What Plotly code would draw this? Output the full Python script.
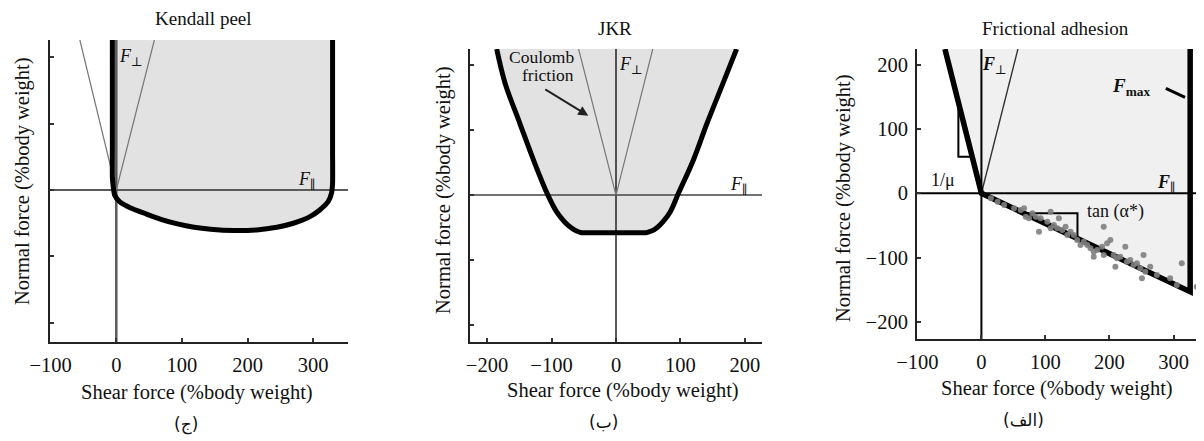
import plotly.graph_objects as go

# The page places the figure 8 px in from the top-left corner (default body margin),
# so the figure is sized/positioned to compensate.
PAGE_W, PAGE_H = 1204, 441
OFF = 8
W, H = PAGE_W - OFF, PAGE_H - OFF
FONT = "Liberation Serif, Times New Roman, DejaVu Serif, serif"
AR_FONT = "DejaVu Sans, Noto Sans, sans-serif"
TXT = "#111111"

# ---------------- data ----------------
# axis ranges (data units)
k_xrange = [-101, 353]
k_yrange = [-228.6, 225.6]
j_xrange = [-226.4, 226.4]
j_yrange = [-226.0, 224.6]
f_xrange = [-100.6, 347.6]
f_yrange = [-226.6, 224.4]

k_xticks = [-100, 0, 100, 200, 300]
j_xticks = [-200, -100, 0, 100, 200]
f_xticks = [-100, 0, 100, 200, 300]
y_ticks = [-200, -100, 0, 100, 200]

# Kendall peel limit curve
kendall_x = [-6, -6, -6, -5, -2.5, 5, 22.7, 42.9, 68, 93.3, 118.5, 143.7, 179, 214,
             244.6, 269.7, 295, 310, 322.7, 327.8, 329.5, 329.5, 329.5]
kendall_y = [225.6, 60, 20, 8, -7.5, -17.6, -27.5, -35, -44, -51, -56, -59, -61, -60,
             -56, -50, -40, -30, -17.6, -5, 10, 60, 225.6]
k_cone_x = [-55.5, 0, 58]
k_cone_y = [225.6, 0, 225.6]

# JKR limit curve
jkr_x = [-185, -172, -149, -128, -107, -92, -80, -70, -62, -55, -48, -20, 10, 40,
         48, 56, 64, 73, 84, 97, 120, 141, 166, 187]
jkr_y = [224.6, 172, 110, 54, 3, -26, -41, -50, -55, -57.5, -58, -58, -58, -58,
         -57.5, -55, -50, -41, -26, 3, 54, 110, 172, 224.6]
j_cone_x = [-58, 0, 57]
j_cone_y = [224.6, 0, 224.6]
coulomb_arrow_tail = (-112, 164)
coulomb_arrow_head = (-43, 122)

# Frictional adhesion limit curve
fa_x = [-57, 0, 326, 326]
fa_y = [224.4, 0, -153, 224.4]
f_cone_x = [0, 57]
f_cone_y = [0, 224.4]
mu_tri_x = [-36, -36, -14.7]
mu_tri_y = [139.7, 57, 57]
tan_tri_x = [66, 150, 150]
tan_tri_y = [-31, -31, -70.4]
fmax_arrow_x = [288, 318]
fmax_arrow_y = [163.3, 149.3]

# measured data points (shear, normal)
pts_x = [14.8, 25.2, 35.5, 51.0, 61.4, 66.6, 69.2, 74.3, 79.6, 84.8, 92.5, 108.1,
         121.0, 103.0, 113.2, 118.5, 126.3, 131.4, 139.2, 89.9, 144.3, 149.6, 159.9,
         165.2, 170.3, 175.4, 180.7, 188.5, 191.0, 196.3, 201.4, 191.0, 206.5, 211.8,
         216.9, 224.7, 227.4, 232.5, 237.6, 242.9, 248.1, 253.2, 255.8, 263.6, 209.2,
         250.7, 274.0, 294.7, 305.1, 312.9, 336.2, 175.4, 108.1, 134.1, 154.7, 344.0]
pts_y = [-7.8, -13.0, -18.2, -23.3, -26.0, -23.3, -36.4, -38.9, -31.1, -36.4, -38.9,
         -28.6, -38.9, -44.2, -49.3, -54.4, -57.1, -51.9, -59.7, -59.7, -64.9, -72.6,
         -75.3, -80.4, -85.5, -90.8, -88.2, -83.0, -51.9, -77.8, -72.6, -96.0, -96.0,
         -101.1, -98.6, -83.0, -106.4, -103.7, -111.5, -108.9, -116.6, -96.0, -121.9,
         -114.2, -114.2, -132.2, -127.1, -132.2, -142.6, -108.9, -145.3, -98.6, -54.4,
         -64.9, -80.4, -171.0]

# ---------------- figure ----------------
fig = go.Figure()

SHADE = "#e2e2e2"
SHADE3 = "#f0f0f0"


def add(tr):
    fig.add_trace(tr)


# Panel 1: Kendall peel
add(go.Scatter(x=kendall_x, y=kendall_y, fill="toself", fillcolor=SHADE,
               line=dict(width=0, shape="spline", smoothing=0.6), mode="lines",
               xaxis="x", yaxis="y", hoverinfo="skip"))
add(go.Scatter(x=[0, 0], y=k_yrange, mode="lines", line=dict(color="#5a5a5a", width=2.5),
               xaxis="x", yaxis="y"))
add(go.Scatter(x=k_xrange, y=[0, 0], mode="lines", line=dict(color="#5a5a5a", width=2),
               xaxis="x", yaxis="y"))
add(go.Scatter(x=k_cone_x, y=k_cone_y, mode="lines", line=dict(color="#777777", width=1.2),
               xaxis="x", yaxis="y"))
add(go.Scatter(x=kendall_x, y=kendall_y, mode="lines",
               line=dict(color="black", width=5, shape="spline", smoothing=0.6),
               xaxis="x", yaxis="y"))

# Panel 2: JKR
add(go.Scatter(x=jkr_x, y=jkr_y, fill="toself", fillcolor=SHADE,
               line=dict(width=0, shape="spline", smoothing=1.0), mode="lines",
               xaxis="x2", yaxis="y2"))
add(go.Scatter(x=[0, 0], y=j_yrange, mode="lines", line=dict(color="#222222", width=1.5),
               xaxis="x2", yaxis="y2"))
add(go.Scatter(x=j_xrange, y=[0, 0], mode="lines", line=dict(color="#444444", width=1.6),
               xaxis="x2", yaxis="y2"))
add(go.Scatter(x=j_cone_x, y=j_cone_y, mode="lines", line=dict(color="#777777", width=1.2),
               xaxis="x2", yaxis="y2"))
add(go.Scatter(x=jkr_x, y=jkr_y, mode="lines",
               line=dict(color="black", width=5, shape="spline", smoothing=1.0),
               xaxis="x2", yaxis="y2"))

# Panel 3: Frictional adhesion
add(go.Scatter(x=fa_x, y=fa_y, fill="toself", fillcolor=SHADE3,
               line=dict(width=0), mode="lines", xaxis="x3", yaxis="y3"))
add(go.Scatter(x=[0, 0], y=f_yrange, mode="lines", line=dict(color="black", width=2),
               xaxis="x3", yaxis="y3"))
add(go.Scatter(x=f_xrange, y=[0, 0], mode="lines", line=dict(color="black", width=2),
               xaxis="x3", yaxis="y3"))
add(go.Scatter(x=f_cone_x, y=f_cone_y, mode="lines", line=dict(color="#333333", width=1.4),
               xaxis="x3", yaxis="y3"))
add(go.Scatter(x=mu_tri_x, y=mu_tri_y, mode="lines", line=dict(color="black", width=2),
               xaxis="x3", yaxis="y3"))
add(go.Scatter(x=tan_tri_x, y=tan_tri_y, mode="lines", line=dict(color="black", width=2),
               xaxis="x3", yaxis="y3"))
add(go.Scatter(x=fa_x, y=fa_y, mode="lines", line=dict(color="black", width=5.5),
               xaxis="x3", yaxis="y3"))
add(go.Scatter(x=pts_x, y=pts_y, mode="markers",
               marker=dict(color="#808080", size=6, opacity=0.9),
               xaxis="x3", yaxis="y3"))
add(go.Scatter(x=fmax_arrow_x, y=fmax_arrow_y, mode="lines",
               line=dict(color="black", width=3), xaxis="x3", yaxis="y3"))


def minus(v):
    return str(v).replace("-", "\u2212")


axis_common = dict(showgrid=False, zeroline=False, showline=True, linecolor="#222222",
                   linewidth=2, ticks="inside", ticklen=4, tickwidth=1.5, automargin=False,
                   tickcolor="#333333", tickfont=dict(family=FONT, size=20.5, color=TXT),
                   ticklabelstandoff=3)


def px_x(a, b):
    return [(a - OFF) / W, min(1.0, (b - OFF) / W)]


def px_y(top, bottom):
    return [1 - (bottom - OFF) / H, 1 - (top - OFF) / H]


fig.update_layout(
    template="none",
    width=W, height=H, margin=dict(l=0, r=0, t=0, b=0, pad=0),
    paper_bgcolor="white", plot_bgcolor="white", showlegend=False,
    xaxis=dict(axis_common, domain=px_x(50, 348), range=k_xrange, anchor="y",
               tickvals=k_xticks, ticktext=[minus(v) for v in k_xticks]),
    yaxis=dict(axis_common, domain=px_y(40, 342), range=k_yrange, anchor="x",
               tickvals=y_ticks, showticklabels=False),
    xaxis2=dict(axis_common, domain=px_x(470, 762), range=j_xrange, anchor="y2",
                tickvals=j_xticks, ticktext=[minus(v) for v in j_xticks]),
    yaxis2=dict(axis_common, domain=px_y(49, 342), range=j_yrange, anchor="x2",
                tickvals=y_ticks, showticklabels=False),
    xaxis3=dict(axis_common, domain=px_x(917, 1204), range=f_xrange, anchor="y3",
                tickvals=f_xticks, ticktext=[minus(v) for v in f_xticks]),
    yaxis3=dict(axis_common, domain=px_y(49, 339), range=f_yrange, anchor="x3",
                tickvals=y_ticks, ticktext=[minus(v) for v in y_ticks]),
)

ann = []


def paper_text(text, xp, yp, size=18, angle=0, family=FONT):
    ann.append(dict(text=text, x=(xp - OFF) / W, y=1 - (yp - OFF) / H, xref="paper",
                    yref="paper", showarrow=False, textangle=angle, xanchor="center",
                    yanchor="middle", font=dict(family=family, size=size, color=TXT)))


def data_text(text, x, y, ax, size=18, xanchor="center"):
    n = "" if ax == "" else ax
    ann.append(dict(text=text, x=x, y=y, xref="x" + n, yref="y" + n, showarrow=False,
                    xanchor=xanchor, yanchor="middle",
                    font=dict(family=FONT, size=size, color=TXT)))


# titles
paper_text("Kendall peel", 203, 18, 19)
paper_text("JKR", 615, 28, 19)
paper_text("Frictional adhesion", 1055, 29, 19)
# axis titles
paper_text("Shear force (%body weight)", 197, 392, 20.5)
paper_text("Shear force (%body weight)", 623, 390, 20.5)
paper_text("Shear force (%body weight)", 1057, 388, 20.5)
paper_text("Normal force (%body weight)", 22, 181, 20.5, -90)
paper_text("Normal force (%body weight)", 443, 190, 20.5, -90)
paper_text("Normal force (%body weight)", 843, 198, 20.5, -90)
# captions
paper_text("(ج)", 186, 424, 17, family=AR_FONT)
paper_text("(ب)", 603, 422, 17, family=AR_FONT)
paper_text("(الف)", 1023, 420, 17, family=AR_FONT)

# in-panel labels
data_text("<i>F</i><sub>⊥</sub>", 22, 200, "", 18)
data_text("<i>F</i><sub>∥</sub>", 290, 15, "", 18)
data_text("<i>F</i><sub>⊥</sub>", 24, 200, "2", 18)
data_text("<i>F</i><sub>∥</sub>", 190, 15, "2", 18)
data_text("Coulomb", -116, 212, "2", 17.5)
data_text("friction", -106, 185, "2", 17.5)
data_text("<b><i>F</i></b><sub>⊥</sub>", 21, 199, "3", 18)
data_text("<b><i>F</i><sub>max</sub></b>", 234, 166, "3", 19)
data_text("<b><i>F</i></b><sub>∥</sub>", 289, 15, "3", 18)
data_text("1/μ", -60, 21, "3", 18)
data_text("tan (α*)", 209, -28.6, "3", 18)

ann.append(dict(x=coulomb_arrow_head[0], y=coulomb_arrow_head[1],
                ax=coulomb_arrow_tail[0], ay=coulomb_arrow_tail[1],
                xref="x2", yref="y2", axref="x2", ayref="y2", text="",
                showarrow=True, arrowhead=2, arrowsize=1, arrowwidth=2,
                arrowcolor="#222222", standoff=0))

fig.update_layout(annotations=ann)
fig.write_html("out.html")
